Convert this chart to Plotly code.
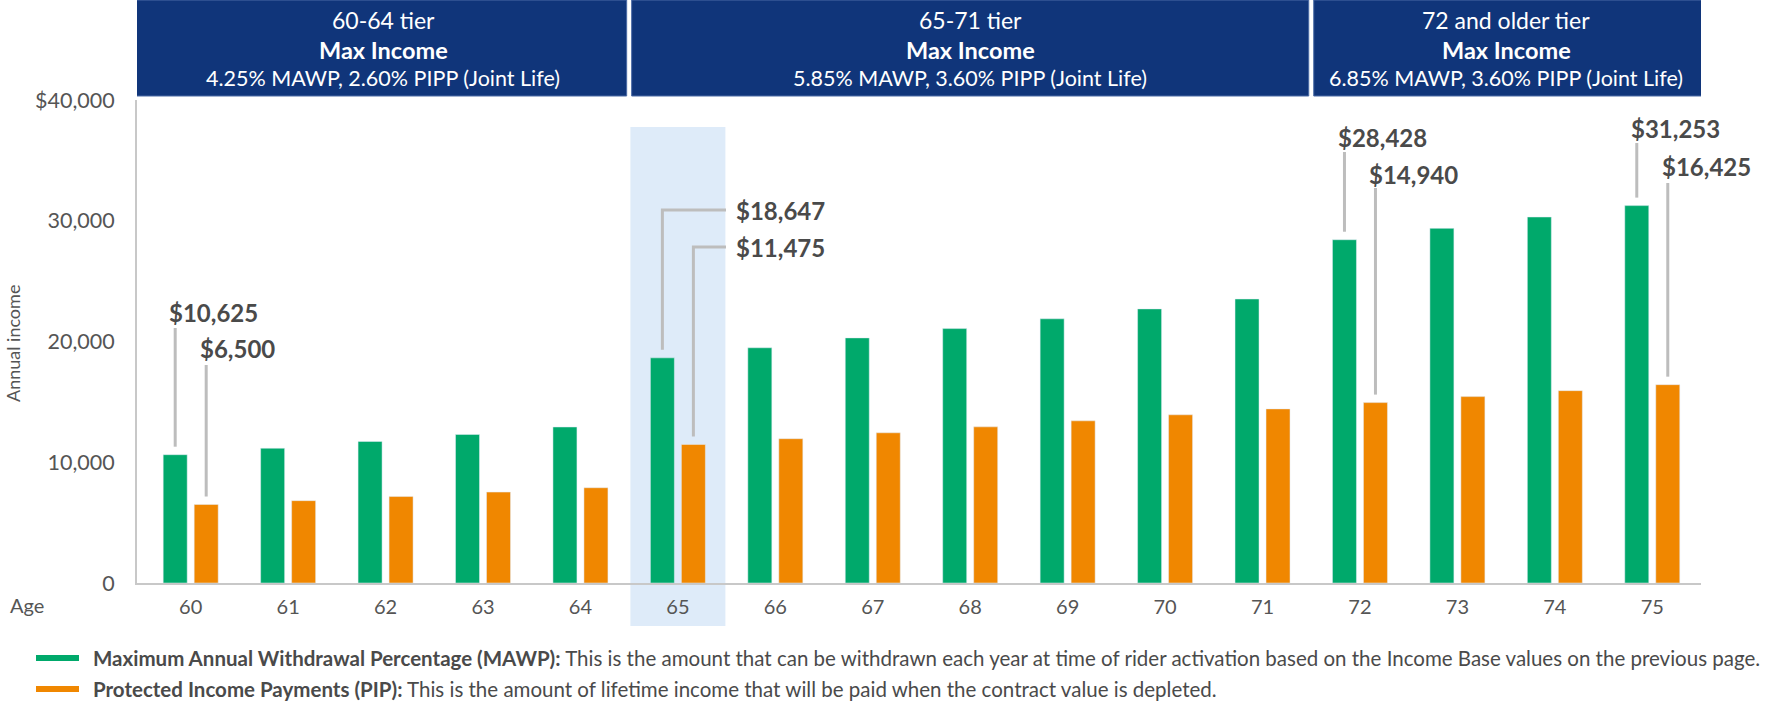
import plotly.graph_objects as go

# ---------------- data ----------------
ages = [60, 61, 62, 63, 64, 65, 66, 67, 68, 69, 70, 71, 72, 73, 74, 75]
mawp = [10625, 11160, 11720, 12300, 12920, 18647, 19480, 20300, 21070, 21880,
        22700, 23520, 28428, 29370, 30310, 31253]
pip = [6500, 6820, 7160, 7530, 7890, 11475, 11950, 12440, 12930, 13430,
       13930, 14420, 14940, 15435, 15930, 16425]

tier_names = ["60-64 tier", "65-71 tier", "72 and older tier"]
tier_product = ["Max Income", "Max Income", "Max Income"]
tier_rates = ["4.25% MAWP, 2.60% PIPP (Joint Life)",
              "5.85% MAWP, 3.60% PIPP (Joint Life)",
              "6.85% MAWP, 3.60% PIPP (Joint Life)"]
tier_first_age = [60, 65, 72]
tier_last_age = [64, 71, 75]

highlight_age = 65

y_ticks = [0, 10000, 20000, 30000, 40000]
y_tick_text = ["0", "10,000", "20,000", "30,000", "$40,000"]

legend_bold = ["Maximum Annual Withdrawal Percentage (MAWP):",
               "Protected Income Payments (PIP):"]
legend_desc = ["This is the amount that can be withdrawn each year at time of rider activation based on the Income Base values on the previous page.",
               "This is the amount of lifetime income that will be paid when the contract value is depleted."]

# ---------------- styles ----------------
GREEN = "#00a96b"
ORANGE = "#f08700"
NAVY = "#10357a"
BAND = "#deebf9"
TXT = "#4a4a4a"
TICK = "#555555"
LEAD = "#bdbdbd"
FONT = "Lato, 'Source Sans Pro', Roboto, sans-serif"

W, H = 1769, 702
ML, MR, MT, MB = 137, 68, 100, 119
PW, PH = W - ML - MR, H - MT - MB
XMIN, XMAX = -0.551, 15.5
YMAX = 40000
px_x = PW / (XMAX - XMIN)       # pixels per category
px_y = PH / YMAX                # pixels per unit


def dy(px):
    return px / px_y


def dxu(px):
    return px / px_x


def paper_x(px):
    return (px - ML) / PW


def paper_y(px):
    return (H - MB - px) / PH


BAR_W = dxu(24)
BAR_OFF = dxu(3.5)

cats = [str(a) for a in ages]

fig = go.Figure()
fig.add_trace(go.Bar(x=cats, y=mawp, name="MAWP", marker_color=GREEN,
                     width=BAR_W, offset=-BAR_OFF - BAR_W, hoverinfo="x+y"))
fig.add_trace(go.Bar(x=cats, y=pip, name="PIP", marker_color=ORANGE,
                     width=BAR_W, offset=BAR_OFF, hoverinfo="x+y"))

shapes = []
annotations = []

# highlight band for age 65
hi = ages.index(highlight_age)
shapes.append(dict(type="rect", xref="x", yref="paper", layer="below",
                   x0=hi - dxu(47.5), x1=hi + dxu(47.5),
                   y0=paper_y(626), y1=paper_y(127),
                   fillcolor=BAND, line_width=0))

# tier header boxes
for k in range(len(tier_names)):
    i0 = ages.index(tier_first_age[k])
    i1 = ages.index(tier_last_age[k])
    x0 = i0 - 0.5 + (dxu(2.5) if k > 0 else -0.1)
    x1 = i1 + 0.5 - (dxu(2.5) if k < len(tier_names) - 1 else -0.05)
    shapes.append(dict(type="rect", xref="x", yref="paper",
                       x0=x0, x1=x1, y0=paper_y(96), y1=paper_y(0),
                       fillcolor=NAVY, line=dict(color="#4a6aa5", width=1)))
    xc = (i0 - 0.5 + i1 + 0.5) / 2 if k > 0 else (XMIN + i1 + 0.5) / 2
    for txt, py, sz in [(tier_names[k], 20, 23),
                        ("<b>" + tier_product[k] + "</b>", 50, 23.5),
                        (tier_rates[k], 78, 21.5)]:
        annotations.append(dict(xref="x", yref="paper", x=xc, y=paper_y(py),
                                text=txt, showarrow=False, xanchor="center",
                                yanchor="middle",
                                font=dict(family=FONT, size=sz, color="white")))

# callouts
callouts = [
    # age, series, leader top (px), text centre (px), elbow x (px) or None
    (60, "mawp", 328, 312, None),
    (60, "pip", 365, 348, None),
    (65, "mawp", 210, 210, 726),
    (65, "pip", 247, 247, 726),
    (72, "mawp", 152, 137, None),
    (72, "pip", 188, 174, None),
    (75, "mawp", 143, 128, None),
    (75, "pip", 183, 166, None),
]
for age, ser, top_px, text_px, elbow_px in callouts:
    i = ages.index(age)
    vals = mawp if ser == "mawp" else pip
    v = vals[i]
    xc = i - BAR_OFF - BAR_W / 2 if ser == "mawp" else i + BAR_OFF + BAR_W / 2
    y_bottom = v + dy(8)
    y_top = (H - MB - top_px) / px_y
    y_text = (H - MB - text_px) / px_y
    line = dict(color=LEAD, width=3)
    if elbow_px is None:
        shapes.append(dict(type="line", xref="x", yref="y", x0=xc, x1=xc,
                           y0=y_bottom, y1=y_top, line=line))
        tx = xc - dxu(8)
    else:
        xe = (elbow_px - ML) / px_x + XMIN
        shapes.append(dict(type="path", xref="x", yref="y",
                           path=f"M {xc},{y_bottom} L {xc},{y_top} L {xe},{y_top}",
                           line=line))
        tx = xe + dxu(8)
    annotations.append(dict(xref="x", yref="y", x=tx, y=y_text,
                            text=f"<b>${v:,}</b>", showarrow=False,
                            xanchor="left", yanchor="middle",
                            font=dict(family=FONT, size=24, color=TXT)))

# "Age" label
annotations.append(dict(xref="paper", yref="paper", x=paper_x(8), y=paper_y(605),
                        text="Age", showarrow=False, xanchor="left", yanchor="middle",
                        font=dict(family=FONT, size=20, color=TICK)))
# y-axis title
annotations.append(dict(xref="paper", yref="paper", x=paper_x(13), y=paper_y(344),
                        text="Annual income", showarrow=False, textangle=-90,
                        xanchor="center", yanchor="middle",
                        font=dict(family=FONT, size=18, color=TICK)))

# custom legend
for k, (col, py) in enumerate([(GREEN, 658), (ORANGE, 689)]):
    shapes.append(dict(type="line", xref="paper", yref="paper",
                       x0=paper_x(36), x1=paper_x(79), y0=paper_y(py), y1=paper_y(py),
                       line=dict(color=col, width=6)))
    annotations.append(dict(xref="paper", yref="paper", x=paper_x(91), y=paper_y(py),
                            text=f"<b>{legend_bold[k]}</b> {legend_desc[k]}",
                            showarrow=False, xanchor="left", yanchor="middle",
                            font=dict(family=FONT, size=20.5, color=TXT)))

fig.update_layout(
    width=W, height=H,
    margin=dict(l=ML, r=MR, t=MT, b=MB),
    plot_bgcolor="white", paper_bgcolor="white",
    showlegend=False,
    shapes=shapes, annotations=annotations,
    font=dict(family=FONT, color=TICK),
    xaxis=dict(type="category", range=[XMIN, XMAX], showgrid=False,
               showline=True, linecolor="#c8c8c8", linewidth=2,
               ticks="outside", ticklen=5, tickcolor="rgba(0,0,0,0)",
               tickfont=dict(family=FONT, size=20, color=TICK), fixedrange=True),
    yaxis=dict(range=[0, YMAX], showgrid=False, zeroline=False,
               showline=True, linecolor="#c8c8c8", linewidth=2,
               tickvals=y_ticks, ticktext=y_tick_text,
               ticks="outside", ticklen=16, tickcolor="rgba(0,0,0,0)",
               tickfont=dict(family=FONT, size=21.5, color=TICK), fixedrange=True),
)

fig.write_html("out.html",
               config={"displayModeBar": False},
               post_script="document.body.style.margin='0';document.body.style.overflow='hidden';")
